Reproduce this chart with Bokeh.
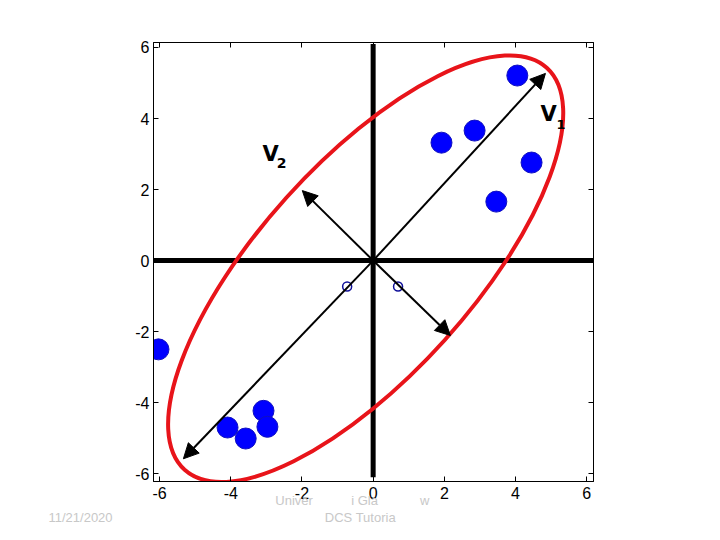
import math
from bokeh.plotting import figure
from bokeh.models import (Range1d, LinearAxis, FixedTicker, Label, Arrow,
                          NormalHead, CustomJSTickFormatter)
from bokeh.embed import file_html
from bokeh.resources import INLINE

# data points
pts_x = [4.05, 2.85, 1.92, 4.45, 3.46, -6.03, -3.08, -2.97, -4.09, -3.58]
pts_y = [5.21, 3.66, 3.32, 2.76, 1.66, -2.50, -4.23, -4.68, -4.70, -5.01]

# small hollow markers near origin
small_x = [-0.73, 0.70]
small_y = [-0.73, -0.73]

# principal-direction arrow tips (from origin)
arrow_x = [4.84, -5.33, -1.99, 2.17]
arrow_y = [5.27, -5.58, 1.97, -2.11]

# ellipse parameters
ell_cx, ell_cy = -0.21, -0.23
ell_w, ell_h = 15.2, 6.0
ell_angle_deg = 48

ticks = [-6, -4, -2, 0, 2, 4, 6]
tick_labels = ["-6", "-4", "-2", "0", "2", "4", "6"]

# footer texts: (text, x, y, side panel that holds it)
footer = [("11/21/2020", -8.22, -7.24, "left"),
          ("Univer", -2.22, -6.76, "left"),
          ("i Gla", -0.24, -6.76, "right"),
          ("w", 1.45, -6.76, "right"),
          ("DCS Tutoria", -0.36, -7.24, "below")]

p = figure(width=712, height=532, output_backend="svg", toolbar_location=None,
           x_range=Range1d(-6.17, 6.19), y_range=Range1d(-6.22, 6.14),
           min_border_left=153, min_border_right=119,
           min_border_top=42, min_border_bottom=51)
p.grid.visible = False
p.outline_line_color = "black"
p.outline_line_width = 1
p.background_fill_color = "white"
p.border_fill_color = "white"

for ax in (p.xaxis[0], p.yaxis[0]):
    ax.ticker = FixedTicker(ticks=ticks)
    ax.major_label_overrides = {t: s for t, s in zip(ticks, tick_labels)}
    ax.major_tick_in = 5
    ax.major_tick_out = 0
    ax.minor_tick_line_color = None
    ax.axis_line_color = "black"
    ax.major_label_text_font = "Liberation Sans"
    ax.major_label_text_font_size = "16px"
    ax.major_label_text_color = "black"
p.xaxis[0].major_label_standoff = 5
p.yaxis[0].major_label_standoff = 4

for loc in ("above", "right"):
    ax = LinearAxis(ticker=FixedTicker(ticks=ticks),
                    formatter=CustomJSTickFormatter(code="return ''"))
    ax.major_tick_in = 5
    ax.major_tick_out = 0
    ax.minor_tick_line_color = None
    ax.axis_line_color = "black"
    p.add_layout(ax, loc)

# thick coordinate axes
p.line([0, 0], [6.1, -6.1], line_width=5, line_color="black")
p.line([-6.17, 6.19], [0, 0], line_width=5, line_color="black")

# ellipse
p.ellipse(x=[ell_cx], y=[ell_cy], width=[ell_w], height=[ell_h],
          angle=[math.radians(ell_angle_deg)], fill_color=None,
          line_color="#e8141a", line_width=4)

# arrows
for ax_, ay_ in zip(arrow_x, arrow_y):
    p.add_layout(Arrow(end=NormalHead(size=15, fill_color="black", line_color="black"),
                       x_start=0, y_start=0, x_end=ax_, y_end=ay_,
                       line_width=2, line_color="black"))

# points
p.scatter(pts_x, pts_y, size=21, fill_color="#0000ff", line_color="#1010c0", line_width=1)
p.scatter(small_x, small_y, size=9, fill_color=None, line_color="#10109a", line_width=1.5)

# labels V1 and V2
for txt, x, y, sz in [("V", 4.93, 4.14, "21px"), ("1", 5.28, 3.83, "13px"),
                      ("V", -2.88, 3.01, "21px"), ("2", -2.57, 2.74, "14px")]:
    p.add_layout(Label(x=x, y=y, text=txt, text_font="DejaVu Sans",
                       text_font_style="bold", text_font_size=sz,
                       text_align="center", text_baseline="middle",
                       text_color="black"))

# footer texts, kept in side panels so that they are not clipped by the frame
for txt, x, y, side in footer:
    p.add_layout(Label(x=x, y=y, text=txt, text_font="Liberation Sans",
                       text_font_size="13px", text_align="center",
                       text_baseline="middle", text_color="#c8c8c8"), side)

open("out.html", "w").write(file_html(p, INLINE))
